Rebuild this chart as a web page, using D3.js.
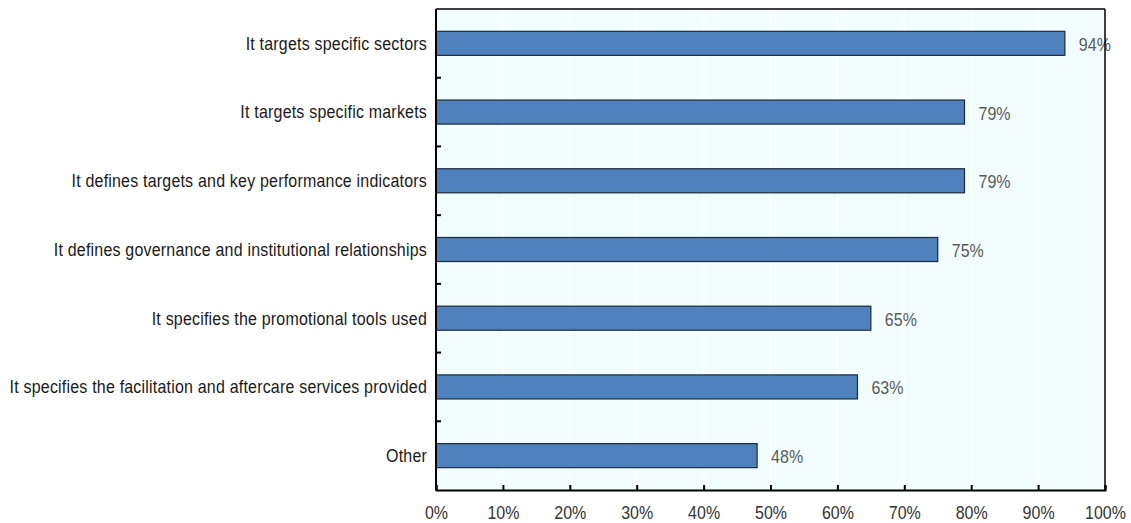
<!DOCTYPE html>
<html>
<head>
<meta charset="utf-8">
<script src="https://cdn.jsdelivr.net/npm/d3@7"></script>
<style>
  html, body { margin: 0; padding: 0; background: #fff; }
  svg { display: block; }
</style>
</head>
<body>
<svg id="chart" width="1131" height="523"></svg>
<script>
// Features of the investment promotion strategy (share of agencies)
const categories = [
  "It targets specific sectors",
  "It targets specific markets",
  "It defines targets and key performance indicators",
  "It defines governance and institutional relationships",
  "It specifies the promotional tools used",
  "It specifies the facilitation and aftercare services provided",
  "Other"
];
const values = [94, 79, 79, 75, 65, 63, 48];
const xTicks = [0, 10, 20, 30, 40, 50, 60, 70, 80, 90, 100];

const FONT = "Liberation Sans, Arial, sans-serif";
const STRETCH = 1.18; // glyphs are drawn slightly tall

const svg = d3.select("#chart");
const margin = { top: 9, right: 26, bottom: 33, left: 436 };
const W = 1131, H = 523;
const iw = W - margin.left - margin.right;
const ih = H - margin.top - margin.bottom;

const g = svg.append("g").attr("transform", `translate(${margin.left},${margin.top})`);

const x = d3.scaleLinear().domain([0, 100]).range([0, iw]);
const y = d3.scaleBand().domain(categories).range([0, ih]).paddingInner(0.65).paddingOuter(0.325);
const yBand = d3.scaleBand().domain(categories).range([0, ih]);

// plot background
g.append("rect").attr("width", iw).attr("height", ih).attr("fill", "#f2fefe");

// vertical gridlines
g.selectAll("line.grid").data(xTicks.slice(1, -1)).join("line")
  .attr("class", "grid")
  .attr("x1", d => x(d)).attr("x2", d => x(d))
  .attr("y1", 0).attr("y2", ih)
  .attr("stroke", "#ffffff").attr("stroke-width", 1.5);

// bars
g.selectAll("rect.bar").data(values).join("rect")
  .attr("class", "bar")
  .attr("x", x(0))
  .attr("y", (d, i) => y(categories[i]))
  .attr("width", d => x(d) - x(0))
  .attr("height", y.bandwidth())
  .attr("fill", "#4f81bd")
  .attr("stroke", "#1c2a3c")
  .attr("stroke-width", 1.2);

// value labels
g.selectAll("text.val").data(values).join("text")
  .attr("class", "val")
  .attr("transform", (d, i) =>
    `translate(${x(d) + 14},${y(categories[i]) + y.bandwidth() / 2 + 7.5}) scale(1,${STRETCH})`)
  .attr("font-family", FONT)
  .attr("font-size", 16)
  .attr("fill", "#595959")
  .text(d => d + "%");

// frame: top and right thin, left and bottom axes heavier
g.append("line").attr("x1", 0).attr("x2", iw).attr("y1", 0).attr("y2", 0)
  .attr("stroke", "#000").attr("stroke-width", 1.5);
g.append("line").attr("x1", iw).attr("x2", iw).attr("y1", 0).attr("y2", ih)
  .attr("stroke", "#000").attr("stroke-width", 1.5);

// x axis
const xAxis = g.append("g").attr("transform", `translate(0,${ih})`)
  .call(d3.axisBottom(x).tickValues(xTicks).tickFormat(d => d + "%").tickSize(-5).tickPadding(0));
xAxis.select(".domain").attr("stroke", "#000").attr("stroke-width", 2);
xAxis.selectAll(".tick line").attr("stroke", "#000").attr("stroke-width", 2);
xAxis.selectAll(".tick text")
  .attr("y", null).attr("dy", null)
  .attr("transform", `translate(0,29) scale(1,${STRETCH})`)
  .attr("font-family", FONT)
  .attr("font-size", 16).attr("fill", "#333");

// y axis with ticks at band boundaries
const yAxis = g.append("g");
yAxis.append("line").attr("x1", 0).attr("x2", 0).attr("y1", 0).attr("y2", ih)
  .attr("stroke", "#000").attr("stroke-width", 2);
yAxis.selectAll("line.ytick").data(categories.slice(1)).join("line")
  .attr("class", "ytick")
  .attr("x1", 0).attr("x2", 5)
  .attr("y1", d => yBand(d)).attr("y2", d => yBand(d))
  .attr("stroke", "#000").attr("stroke-width", 2);
yAxis.selectAll("text.cat").data(categories).join("text")
  .attr("class", "cat")
  .attr("transform", d => `translate(-9,${y(d) + y.bandwidth() / 2 + 6.3}) scale(1,${STRETCH})`)
  .attr("text-anchor", "end")
  .attr("font-family", FONT)
  .attr("font-size", 16)
  .attr("letter-spacing", 0.2)
  .attr("fill", "#1a1a1a")
  .text(d => d);
</script>
</body>
</html>
